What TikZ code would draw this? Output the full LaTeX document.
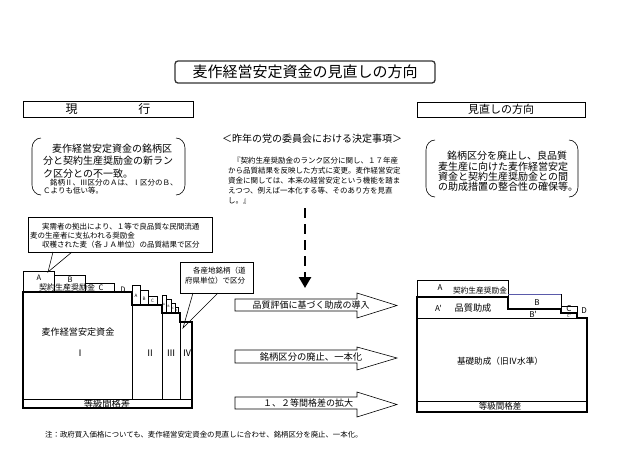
\documentclass[tikz,border=0pt]{standalone}
\usepackage{fontspec}
\newfontfamily\jp{Noto Sans CJK JP}
\usetikzlibrary{arrows.meta}
\newcommand{\fs}[1]{\fontsize{#1}{#1}\selectfont}
\definecolor{topblue}{RGB}{90,90,170}
\begin{document}
\begin{tikzpicture}[x=1pt,y=-1pt,
  thinl/.style={line width=0.6pt},
  thickl/.style={line width=1.5pt},
  lbl/.style={font=\jp, inner sep=0pt},
  hdr/.style={draw, thinl, inner sep=0pt, font={\jp\fs{11}}},
  bigarrow/.style={thinl, fill=white}]
\useasboundingbox (0,0) rectangle (635,467);

% title
\node[draw=black!80, line width=1.3pt, rounded corners=3pt, minimum width=260pt, minimum height=22pt, inner sep=0pt, font={\jp\fs{15}}] (title) at (305,72) {麦作経営安定資金の見直しの方向};

% headers
\node[hdr, minimum width=170pt, minimum height=16pt, font={\jp\fs{12}}] (genko) at (108,109) {現\hspace*{61pt}行};
\node[hdr, minimum width=168pt, minimum height=15pt] (minaoshi) at (501,109.5) {見直しの方向};

% left bracket box
\draw[thinl] (41,138) to[out=180,in=90] (32,148) -- (32,185) to[out=-90,in=180] (41,195);
\draw[thinl] (176,138) to[out=0,in=90] (185,148) -- (185,185) to[out=-90,in=0] (176,195);
\node[lbl, anchor=north west, align=left, font={\jp\fontsize{10}{12.5}\selectfont}] (lefttxt) at (43,143.5)
 {\hspace*{9pt}麦作経営安定資金の銘柄区\\分と契約生産奨励金の新ラン\\ク区分との不一致。};
\node[lbl, anchor=north west, align=left, font={\jp\fontsize{7.5}{8.5}\selectfont}] (leftsmall) at (43,178.5)
 {\hspace*{7pt}銘柄Ⅱ、Ⅲ区分のＡは、Ⅰ区分のＢ、\\Ｃよりも低い等。};

% center
\node[lbl, font={\jp\fs{10}}] (kettei) at (312,139) {＜昨年の党の委員会における決定事項＞};
\node[lbl, anchor=north west, align=left, font={\jp\fontsize{7.5}{10}\selectfont}] (ketteitxt) at (228,156.5)
 {\hspace*{5pt}『契約生産奨励金のランク区分に関し、１７年産\\から品質結果を反映した方式に変更。麦作経営安定\\資金に関しては、本来の経営安定という機能を踏ま\\えつつ、例えば一本化する等、そのあり方を見直\\し。』};

% right bracket box
\draw[thinl] (435,140) to[out=180,in=90] (426,150) -- (426,187) to[out=-90,in=180] (435,197);
\draw[thinl] (569,140) to[out=0,in=90] (578,150) -- (578,187) to[out=-90,in=0] (569,197);
\node[lbl, anchor=north west, align=left, font={\jp\fontsize{10}{10.4}\selectfont}] (righttxt) at (438,151)
 {\hspace*{9pt}銘柄区分を廃止し、良品質\\麦生産に向けた麦作経営安定\\資金と契約生産奨励金との間\\の助成措置の整合性の確保等。};

% dashed arrow
\coordinate (dtop) at (305,208);
\coordinate (dbot) at (305,288);
\draw[line width=2.6pt, dash pattern=on 10pt off 6pt, -{Triangle[length=11pt,width=12pt]}] (dtop) -- (dbot);

% big arrows
\draw[bigarrow] (235,299) -- (357,299) -- (357,293) -- (397,305.5) -- (357,318) -- (357,311) -- (235,311) -- cycle;
\node[lbl, font={\jp\fs{9}}] (ar1) at (311,305) {品質評価に基づく助成の導入};
\draw[bigarrow] (235,350) -- (357,350) -- (357,347) -- (397,358) -- (357,370) -- (357,363) -- (235,363) -- cycle;
\node[lbl, font={\jp\fs{9.3}}] (ar2) at (311,356.5) {銘柄区分の廃止、一本化};
\draw[bigarrow] (235,397) -- (357,397) -- (357,392) -- (397,404.5) -- (357,417) -- (357,409) -- (235,409) -- cycle;
\node[lbl, font={\jp\fs{9}}] (ar3) at (308,403) {１、２等間格差の拡大};

% ---- left chart
\draw[thinl] (23,271) rectangle (54,292);
\draw[thinl] (54,275) rectangle (85,292);
\draw[thinl] (85,283) rectangle (114,292);
\node[lbl, font={\jp\fs{7.5}}] (lA) at (39,278) {A};
\node[lbl, font={\jp\fs{7.5}}] (lB) at (70,280) {B};
\node[lbl, font={\jp\fs{7.5}}] (lC) at (101,288) {C};
\node[lbl, font={\jp\fs{7.5}}] (lD) at (123,289.5) {D};
\node[lbl, font={\jp\fs{8}}] (lkeiyaku) at (67,287.5) {契約生産奨励金};
% II boxes
\draw[thinl] (132,285) rectangle (140,305);
\draw[thinl] (140,290) rectangle (148,305);
\draw[thinl] (148,296) rectangle (157,305);
\node[lbl, font={\jp\fs{4.5}}] (l2A) at (136,296) {A};
\node[lbl, font={\jp\fs{4.5}}] (l2B) at (144,298.5) {B};
\node[lbl, font={\jp\fs{4.5}}] (l2C) at (152.5,301) {C};
% III boxes
\draw[thinl] (162,295) rectangle (166,313);
\draw[thinl] (166,299) rectangle (171,313);
\draw[thinl] (171,303) rectangle (175,313);
\draw[thinl] (175,307) rectangle (178,313);
\node[lbl, font={\jp\fs{3}}] (l3A) at (164,304) {A};
\node[lbl, font={\jp\fs{3}}] (l3B) at (168.5,306.5) {B};
\node[lbl, font={\jp\fs{3}}] (l3C) at (173,308.5) {C};
\node[lbl, font={\jp\fs{2.5}}] (l3D) at (176.5,310.5) {D};
% main
\draw[thickl] (23,408) -- (23,292) -- (132,292) -- (132,305) -- (162,305) -- (162,313) -- (180,313) -- (180,322) -- (192,322) -- (192,408) -- cycle;
\draw[thinl] (23,399) -- (192,399);
\draw[thinl] (132,305) -- (132,399);
\draw[thinl] (162,313) -- (162,399);
\draw[thinl] (180,322) -- (180,399);
\node[lbl, font={\jp\fs{9.1}}] (lmain) at (78,332) {麦作経営安定資金};
\node[lbl, font={\jp\fs{9}}] (r1) at (80,353) {Ⅰ};
\node[lbl, font={\jp\fs{9}}] (r2) at (150,353) {Ⅱ};
\node[lbl, font={\jp\fs{9}}] (r3) at (171,353) {Ⅲ};
\node[lbl, font={\jp\fs{9}}] (r4) at (187,353) {Ⅳ};
\node[lbl, font={\jp\fs{9.3}}] (ltokyu) at (107,404) {等級間格差};

% callout 1
\node[draw, thinl, minimum width=184pt, minimum height=35pt, inner sep=0pt] (call1) at (120,234.5) {};
\node[lbl, anchor=north west, align=left, font={\jp\fontsize{7.5}{9}\selectfont}] (call1txt) at (30,223)
 {\hspace*{12pt}実需者の拠出により、１等で良品質な民間流通\\麦の生産者に支払われる奨励金\\\hspace*{12pt}収穫された麦（各ＪＡ単位）の品質結果で区分};
\coordinate (c1tip) at (48,272);
\coordinate (c1a) at (53,252);
\coordinate (c1b) at (72,252);
\draw[thinl] (c1a) -- (c1tip) -- (c1b);

% callout 2
\node[draw, thinl, minimum width=73pt, minimum height=31pt, inner sep=0pt] (call2) at (216.5,277.5) {};
\node[lbl, anchor=north west, align=left, font={\jp\fontsize{7.5}{10}\selectfont}] (call2txt) at (185,266.5)
 {\hspace*{8pt}各産地銘柄（道\\府県単位）で区分};
\coordinate (c2tip) at (183,328);
\coordinate (c2a) at (193,293);
\coordinate (c2b) at (218,293);
\draw[thinl] (c2a) -- (c2tip) -- (c2b);

% ---- right chart
\draw[thinl] (417,280) rectangle (508,297);
\draw[thinl] (508,309) -- (508,294);
\draw[thinl] (561,294) -- (561,309);
\draw[line width=0.8pt, topblue] (508,294) -- (561,294);
\draw[thinl] (561,306) rectangle (577,313);
\draw[thickl] (417,412) -- (417,297) -- (508,297) -- (508,309) -- (561,309) -- (561,313) -- (577,313) -- (577,318) -- (587,318) -- (587,412) -- cycle;
\draw[thinl] (417,318) -- (587,318);
\draw[thinl] (417,401) -- (587,401);
\node[lbl, font={\jp\fs{8}}] (rA) at (440,287.5) {A};
\node[lbl, font={\jp\fs{7.7}}] (rkeiyaku) at (480,291) {契約生産奨励金};
\node[lbl, font={\jp\fs{8}}] (rA2) at (438.5,308) {A'};
\node[lbl, font={\jp\fs{9.2}}] (rhinshitsu) at (473,308) {品質助成};
\node[lbl, font={\jp\fs{8}}] (rB) at (537,302.5) {B};
\node[lbl, font={\jp\fs{8}}] (rB2) at (533,314.5) {B'};
\node[lbl, font={\jp\fs{8}}] (rC) at (569,309) {C};
\node[lbl, font={\jp\fs{4}}] (rC2) at (569,316) {C'};
\node[lbl, font={\jp\fs{8}}] (rD) at (584,311) {D};
\node[lbl, font={\jp\fs{8.6}}] (rkiso) at (500,361) {基礎助成（旧Ⅳ水準）};
\node[lbl, font={\jp\fs{8.5}}] (rtokyu) at (500,406.5) {等級間格差};

% footnote
\node[lbl, anchor=west, font={\jp\fs{7.4}}] (note) at (45,435) {注：政府買入価格についても、麦作経営安定資金の見直しに合わせ、銘柄区分を廃止、一本化。};
\end{tikzpicture}
\end{document}
